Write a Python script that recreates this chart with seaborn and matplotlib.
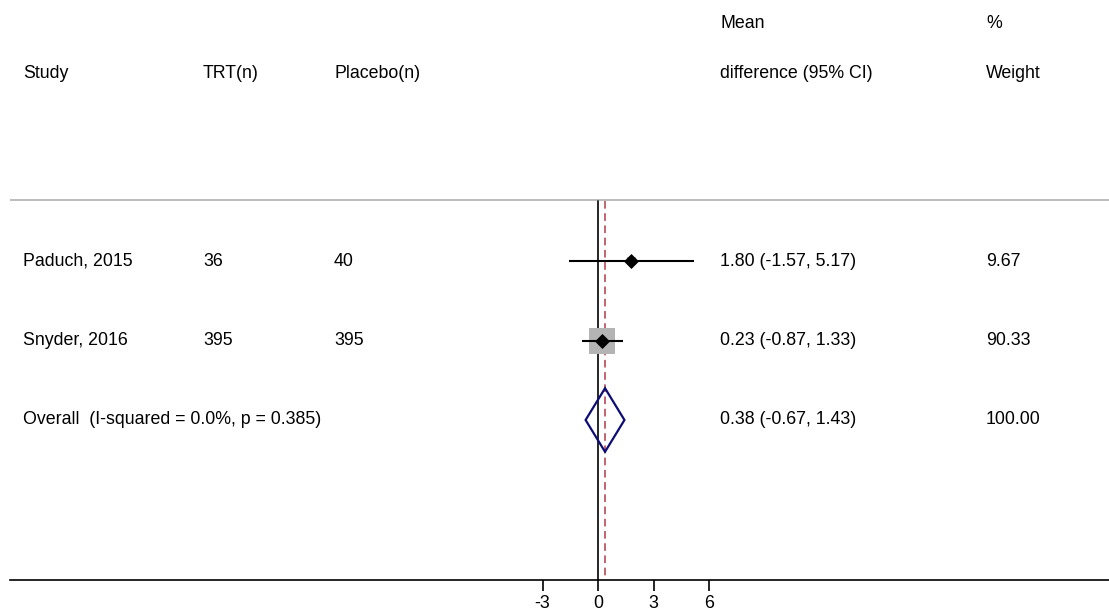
import numpy as np
import pandas as pd
import seaborn as sns
import matplotlib.pyplot as plt
from matplotlib.patches import Polygon

studies = ["Paduch, 2015", "Snyder, 2016"]
trt_n = [36, 395]
placebo_n = [40, 395]
md = [1.80, 0.23]
lo = [-1.57, -0.87]
hi = [5.17, 1.33]
weight = [9.67, 90.33]

overall_label = "Overall  (I-squared = 0.0%, p = 0.385)"
overall_md = 0.38
overall_lo = -0.67
overall_hi = 1.43

xticks = [-3, 0, 3, 6]

df = pd.DataFrame({"Study": studies, "TRT": trt_n, "Placebo": placebo_n,
                   "MD": md, "Lo": lo, "Hi": hi, "Weight": weight})
df["row"] = np.arange(len(df))

sns.set_theme(style="white")
plt.rcParams['font.family'] = ['Liberation Sans', 'DejaVu Sans']
plt.rcParams['text.color'] = 'black'
plt.rcParams['xtick.color'] = 'black'

W, H = 1109, 612
fig = plt.figure(figsize=(W / 100, H / 100), dpi=100)
ax = fig.add_axes([10 / W, (H - 580) / H, 1 - 10 / W, 580 / H])

px_per_unit = 18.5
x0_px = 598
ax.set_xlim((10 - x0_px) / px_per_unit, (W - x0_px) / px_per_unit)
row0_px, row_step = 261, 79.5
ax.set_ylim((580 - row0_px) / row_step, -row0_px / row_step)

def px2x(p):
    return (p - x0_px) / px_per_unit

def py2r(p):
    return (p - row0_px) / row_step

fs = 12.8
# headers
hdr1, hdr2 = py2r(23), py2r(73)
ax.text(px2x(23), hdr2, "Study", fontsize=fs, va="center")
ax.text(px2x(203), hdr2, "TRT(n)", fontsize=fs, va="center")
ax.text(px2x(334), hdr2, "Placebo(n)", fontsize=fs, va="center")
ax.text(px2x(720), hdr1, "Mean", fontsize=fs, va="center")
ax.text(px2x(720), hdr2, "difference (95% CI)", fontsize=fs, va="center")
ax.text(px2x(986), hdr1, "%", fontsize=fs, va="center")
ax.text(px2x(986), hdr2, "Weight", fontsize=fs, va="center")

ax.axhline(py2r(200), color="#b0b0b0", lw=1.2, zorder=1)

# reference lines
top = py2r(201)
ax.plot([0, 0], [top, ax.get_ylim()[0]], color="black", lw=1.2, zorder=2)
ax.plot([overall_md, overall_md], [top, ax.get_ylim()[0]], color="#b03a48",
        lw=1.1, ls=(0, (5, 3)), zorder=2)

# weight squares
side_max = 26
for _, r in df.iterrows():
    side = side_max * np.sqrt(r["Weight"] / max(weight)) * 0.72
    ax.scatter(r["MD"], r["row"], marker="s", s=side ** 2, color="#b4b4b4",
               edgecolor="none", zorder=3)

ax.hlines(df["row"], df["Lo"], df["Hi"], color="black", lw=1.5, zorder=4)
sns.scatterplot(data=df, x="MD", y="row", marker="D", s=50, color="black",
                edgecolor="black", ax=ax, zorder=5, legend=False)

# overall diamond
orow = len(df)
hh = 0.4
diamond = Polygon([[overall_lo, orow], [overall_md, orow - hh],
                   [overall_hi, orow], [overall_md, orow + hh]],
                  closed=True, fill=False, edgecolor="#0d0d73", lw=1.6, zorder=5)
ax.add_patch(diamond)

for _, r in df.iterrows():
    ax.text(px2x(23), r["row"], r["Study"], fontsize=fs, va="center")
    ax.text(px2x(203), r["row"], f"{r['TRT']:.0f}", fontsize=fs, va="center")
    ax.text(px2x(334), r["row"], f"{r['Placebo']:.0f}", fontsize=fs, va="center")
    ax.text(px2x(720), r["row"], f"{r['MD']:.2f} ({r['Lo']:.2f}, {r['Hi']:.2f})",
            fontsize=fs, va="center")
    ax.text(px2x(986), r["row"], f"{r['Weight']:.2f}", fontsize=fs, va="center")

ax.text(px2x(23), orow, overall_label, fontsize=fs, va="center")
ax.text(px2x(720), orow, f"{overall_md:.2f} ({overall_lo:.2f}, {overall_hi:.2f})",
        fontsize=fs, va="center")
ax.text(px2x(986), orow, f"{sum(weight):.2f}", fontsize=fs, va="center")

ax.set_xticks(xticks)
ax.set_xticklabels([str(t) for t in xticks], fontsize=fs)
ax.set_yticks([])
ax.set_xlabel("")
ax.set_ylabel("")
for s in ["top", "left", "right"]:
    ax.spines[s].set_visible(False)
ax.spines["bottom"].set_color("black")
ax.spines["bottom"].set_linewidth(1.2)
ax.tick_params(axis="x", direction="out", length=8, width=1.2, color="black",
               labelcolor="black", bottom=True, pad=3)

fig.savefig("out.png", dpi=100)
